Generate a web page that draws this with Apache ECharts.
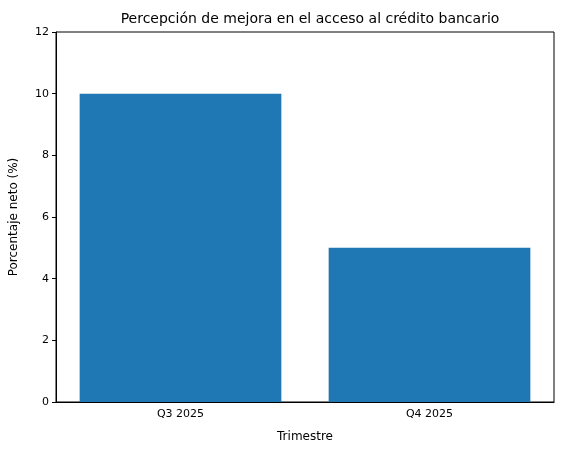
<!DOCTYPE html>
<html>
<head>
<meta charset="utf-8">
<script src="https://cdn.jsdelivr.net/npm/echarts@6/dist/echarts.min.js"></script>
<style>html,body{margin:0;padding:0;background:#fff}#chart{width:562px;height:455px}</style>
</head>
<body>
<div id="chart"></div>
<script>
const categories = ['Q3 2025', 'Q4 2025'];
const values = [10, 5];
const yTicks = { min: 0, max: 12, interval: 2 };

const chart = echarts.init(document.getElementById('chart'));
const font = 'DejaVu Sans';
chart.setOption({
  backgroundColor: '#ffffff',
  animation: false,
  title: {
    text: 'Percepción de mejora en el acceso al crédito bancario',
    left: 305, top: 7, textAlign: 'center',
    textStyle: { fontFamily: font, fontSize: 14, fontWeight: 'normal', color: '#000' }
  },
  grid: { left: 56, right: 8, top: 32, bottom: 53 },
  xAxis: {
    type: 'category',
    data: categories,
    name: 'Trimestre', nameLocation: 'middle', nameGap: 29,
    nameTextStyle: { fontFamily: font, fontSize: 12, color: '#000' },
    axisLine: { lineStyle: { color: '#000' } },
    axisTick: { alignWithLabel: true, length: 4, lineStyle: { color: '#000' } },
    axisLabel: { fontFamily: font, fontSize: 11, color: '#000', margin: 7 }
  },
  yAxis: {
    type: 'value',
    min: yTicks.min, max: yTicks.max, interval: yTicks.interval,
    name: 'Porcentaje neto (%)', nameLocation: 'middle', nameGap: 36,
    nameTextStyle: { fontFamily: font, fontSize: 12, color: '#000' },
    axisLine: { show: true, lineStyle: { color: '#000' } },
    axisTick: { show: true, length: 4, lineStyle: { color: '#000' } },
    axisLabel: { fontFamily: font, fontSize: 11, color: '#000', margin: 7 },
    splitLine: { show: false }
  },
  series: [{
    type: 'bar',
    data: values,
    barCategoryGap: '19%',
    itemStyle: { color: '#1f77b4' }
  }]
});
// top/right spines
chart.setOption({
  graphic: [{
    type: 'rect', shape: { x: 56, y: 32, width: 498, height: 370 },
    style: { fill: 'none', stroke: '#000', lineWidth: 1 }, silent: true
  }]
});
</script>
</body>
</html>
